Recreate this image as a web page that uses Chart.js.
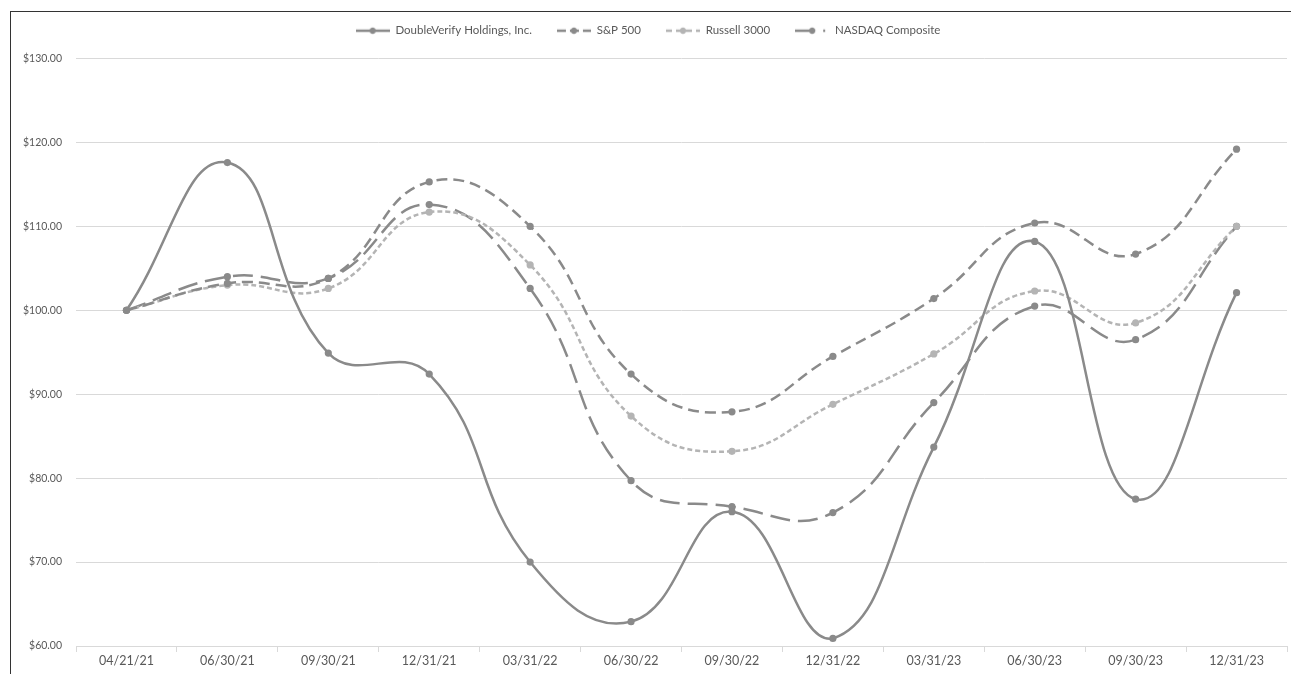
<!DOCTYPE html>
<html>
<head>
<meta charset="utf-8">
<script src="https://cdn.jsdelivr.net/npm/chart.js@4/dist/chart.umd.min.js"></script>
<style>
  html, body { margin: 0; padding: 0; background: #fff; }
  body { width: 1291px; height: 674px; overflow: hidden; position: relative; }
  #frame { position: absolute; left: 10px; top: 11px; width: 1300px; height: 700px; border-left: 1.5px solid #333; border-top: 1.5px solid #333; }
  #wrap { position: absolute; left: 12px; top: 13px; width: 1279px; height: 656px; }
</style>
</head>
<body>
<div id="frame"></div>
<div id="wrap"><canvas id="c"></canvas></div>
<script>
const categories = ["04/21/21","06/30/21","09/30/21","12/31/21","03/31/22","06/30/22","09/30/22","12/31/22","03/31/23","06/30/23","09/30/23","12/31/23"];
const doubleVerify = [100, 117.6, 94.9, 92.4, 70.0, 62.9, 76.0, 60.9, 83.7, 108.2, 77.5, 102.1];
const sp500 = [100, 103.2, 103.8, 115.3, 110.0, 92.4, 87.9, 94.5, 101.4, 110.4, 106.7, 119.2];
const russell3000 = [100, 103.0, 102.6, 111.7, 105.4, 87.4, 83.2, 88.8, 94.8, 102.3, 98.5, 110.0];
const nasdaq = [100, 104.0, 103.8, 112.6, 102.6, 79.7, 76.6, 75.9, 89.0, 100.5, 96.5, 110.0];
const yTicks = [60, 70, 80, 90, 100, 110, 120, 130];

const dark = "#8a8a8a";
const light = "#b4b4b4";
const fontFam = "Lato, 'Liberation Sans', sans-serif";

function legendIcon(color, dash) {
  const w = 34, h = 10, r = 2;
  const cv = document.createElement("canvas");
  cv.width = w * r; cv.height = h * r;
  const ctx = cv.getContext("2d");
  ctx.scale(r, r);
  ctx.strokeStyle = color; ctx.lineWidth = 2.5;
  ctx.setLineDash(dash);
  ctx.beginPath(); ctx.moveTo(0, h / 2); ctx.lineTo(w, h / 2); ctx.stroke();
  ctx.setLineDash([]);
  ctx.fillStyle = color;
  ctx.beginPath(); ctx.arc(w / 2, h / 2, 3.2, 0, Math.PI * 2); ctx.fill();
  const out = new Image(w, h);
  out.src = cv.toDataURL();
  return out;
}

const seriesDefs = [
  { label: "DoubleVerify Holdings, Inc.", data: doubleVerify, color: dark, dash: [], ldash: [] },
  { label: "S&P 500", data: sp500, color: dark, dash: [11, 6], ldash: [9, 4] },
  { label: "Russell 3000", data: russell3000, color: light, dash: [5, 3], ldash: [6, 4] },
  { label: "NASDAQ Composite", data: nasdaq, color: dark, dash: [20, 8], ldash: [20, 8, 2, 10] }
];

const icons = seriesDefs.map(s => legendIcon(s.color, s.ldash));

const datasets = seriesDefs.map((s) => ({
  label: s.label,
  data: s.data,
  borderColor: s.color,
  backgroundColor: s.color,
  borderWidth: 2.5,
  borderDash: s.dash,
  pointStyle: "circle",
  pointRadius: 3.6,
  pointBorderWidth: 0,
  pointBackgroundColor: s.color,
  tension: 0.45,
  fill: false
}));

const legendGrow = {
  id: "legendGrow",
  beforeInit(chart) {
    const orig = chart.legend.fit;
    chart.legend.fit = function () {
      orig.call(this);
      this.height += 12;
    };
  }
};

function draw() {
  new Chart(document.getElementById("c"), {
    type: "line",
    data: { labels: categories, datasets },
    plugins: [legendGrow],
    options: {
      responsive: true,
      maintainAspectRatio: false,
      animation: false,
      devicePixelRatio: 1,
      layout: { padding: { left: -3, right: 4, top: -13, bottom: 0 } },
      plugins: {
        tooltip: { enabled: false },
        legend: {
          position: "top",
          align: "center",
          labels: {
            usePointStyle: true,
            pointStyleWidth: 34,
            color: "#595959",
            font: { family: fontFam, size: 11.5 },
            boxHeight: 10,
            padding: 25,
            generateLabels: () => seriesDefs.map((s, i) => ({
              text: s.label,
              pointStyle: icons[i],
              fillStyle: s.color,
              strokeStyle: s.color,
              lineWidth: 0,
              fontColor: "#595959",
              hidden: false,
              datasetIndex: i
            }))
          }
        }
      },
      scales: {
        x: {
          type: "category",
          offset: true,
          grid: { display: true, offset: true, drawOnChartArea: false, drawTicks: true, tickLength: 6, color: "#d9d9d9" },
          border: { display: true, color: "#d9d9d9", width: 1 },
          ticks: { color: "#595959", font: { family: fontFam, size: 12.5 }, maxRotation: 0, padding: 1 }
        },
        y: {
          min: 60, max: 130,
          afterBuildTicks: (axis) => { axis.ticks = yTicks.map(v => ({ value: v })); },
          grid: { color: "#d9d9d9", drawTicks: false, lineWidth: 1 },
          border: { display: false },
          ticks: {
            color: "#595959",
            font: { family: fontFam, size: 10.5 },
            padding: 14,
            callback: (v) => "$" + Number(v).toFixed(2)
          }
        }
      }
    }
  });
}

Promise.all(icons.map(im => im.complete ? Promise.resolve() : new Promise(r => { im.onload = r; }))).then(draw);
</script>
</body>
</html>
